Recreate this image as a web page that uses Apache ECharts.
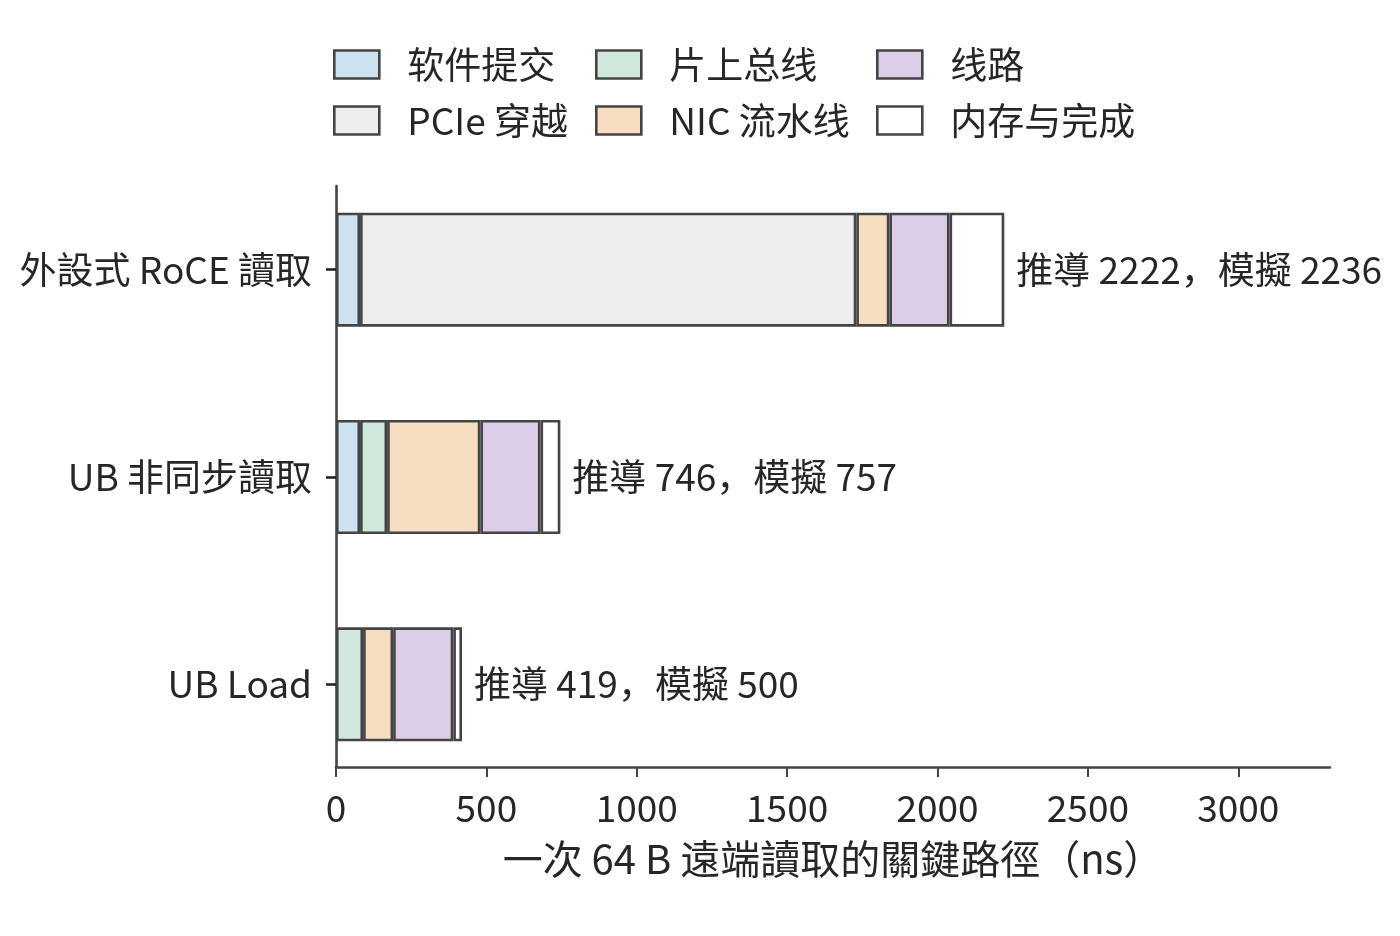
<!DOCTYPE html>
<html>
<head>
<meta charset="utf-8">
<script src="https://cdn.jsdelivr.net/npm/echarts@6/dist/echarts.min.js"></script>
<style>
  html, body { margin: 0; padding: 0; background: #fff; }
  #main { width: 1400px; height: 936px; }
</style>
</head>
<body>
<div id="main"></div>
<script>
// 类别（自上而下）
var categories = ['外設式 RoCE 讀取', 'UB 非同步讀取', 'UB Load'];
// 各阶段耗时 (ns)，null 表示该路径没有此阶段
var swSubmit   = [80,   80,   null];
var onChipBus  = [null, 90,   90];
var pcieCross  = [1650, null, null];
var nicPipe    = [110,  310,  100];
var wire       = [200,  200,  200];
var memDone    = [182,  66,   29];
// 推导值 / 模拟值
var derived    = [2222, 746, 419];
var simulated  = [2236, 757, 500];
var xTicks = [0, 500, 1000, 1500, 2000, 2500, 3000];

var FONT = '"Noto Sans CJK SC", "Noto Sans CJK TC", "Noto Sans", sans-serif';
var EDGE = '#444444';
var TXT = '#262626';

var myChart = echarts.init(document.getElementById('main'));

function seg(name, data, color, extra) {
    var s = {
        name: name,
        type: 'bar',
        stack: 'total',
        xAxisIndex: 1,
        yAxisIndex: 1,
        barWidth: 114,
        data: data,
        itemStyle: {color: color, borderColor: EDGE, borderWidth: 2.6},
        emphasis: {disabled: true}
    };
    if (extra) Object.assign(s, extra);
    return s;
}

function legendCol(left, names) {
    return {
        orient: 'vertical',
        left: left,
        top: 46,
        padding: 0,
        itemWidth: 45,
        itemHeight: 28,
        itemGap: 19,
        icon: 'rect',
        data: names,
        itemStyle: {borderColor: EDGE, borderWidth: 2.6},
        textStyle: {fontFamily: FONT, fontSize: 37, lineHeight: 28, color: TXT, padding: [0, 0, 0, 23]},
        selectedMode: false
    };
}

myChart.setOption({
    animation: false,
    backgroundColor: '#ffffff',
    legend: [
        legendCol(333, ['软件提交', 'PCIe 穿越']),
        legendCol(595, ['片上总线', 'NIC 流水线']),
        legendCol(876, ['线路', '内存与完成'])
    ],
    grid: [
        {left: 336, right: 70, top: 186, bottom: 169},  // 坐标轴线
        {left: 336, right: 70, top: 166, bottom: 148}   // 柱条
    ],
    xAxis: [
        {
            type: 'value', gridIndex: 0, min: 0, max: 3305, interval: 500,
            name: '一次 64 B 遠端讀取的關鍵路徑（ns）',
            nameLocation: 'middle', nameGap: 72,
            nameTextStyle: {fontFamily: FONT, fontSize: 40, color: TXT},
            axisLine: {lineStyle: {color: EDGE, width: 2.6}},
            axisTick: {length: 10, lineStyle: {color: EDGE, width: 2}},
            axisLabel: {
                fontFamily: FONT, fontSize: 37, color: TXT, margin: 22,
                showMaxLabel: false,
                formatter: function (v) { return xTicks.indexOf(v) >= 0 ? String(v) : ''; }
            },
            splitLine: {show: false}
        },
        {
            type: 'value', gridIndex: 1, min: 0, max: 3305, show: false
        }
    ],
    yAxis: [
        {
            type: 'value', gridIndex: 0,
            axisLine: {show: true, lineStyle: {color: EDGE, width: 2.6}},
            axisTick: {show: false},
            axisLabel: {show: false},
            splitLine: {show: false}
        },
        {
            type: 'category', gridIndex: 1, inverse: true,
            data: categories,
            axisLine: {show: false},
            axisTick: {show: true, alignWithLabel: true, length: 10, lineStyle: {color: '#222', width: 2.6}},
            axisLabel: {fontFamily: FONT, fontSize: 37, color: TXT, margin: 24}
        }
    ],
    series: [
        seg('软件提交', swSubmit, '#cde3f2'),
        seg('片上总线', onChipBus, '#d1e8dc'),
        seg('PCIe 穿越', pcieCross, '#ededed'),
        seg('NIC 流水线', nicPipe, '#f8dec1'),
        seg('线路', wire, '#dccde8'),
        seg('内存与完成', memDone, '#ffffff', {
            label: {
                show: true,
                position: 'right',
                distance: 12,
                fontFamily: FONT,
                fontSize: 37,
                color: TXT,
                formatter: function (p) {
                    return '推導 ' + derived[p.dataIndex] + '，模擬 ' + simulated[p.dataIndex];
                }
            }
        })
    ]
});
</script>
</body>
</html>
